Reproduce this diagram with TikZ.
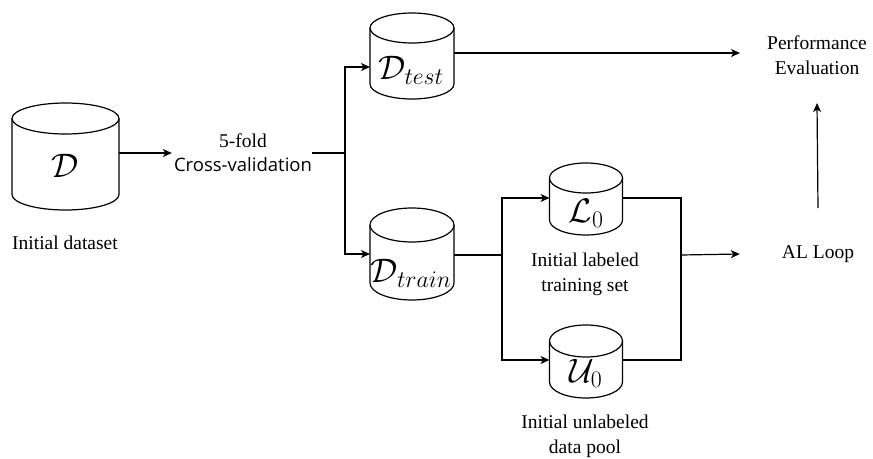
\RequirePackage{fix-cm}
\documentclass[tikz,border=0pt]{standalone}
\usepackage{fontspec}
\setmainfont{Liberation Serif}
\newfontfamily\serifx{Liberation Serif}
\newfontfamily\cvsans{Open Sans}
\usetikzlibrary{arrows.meta,calc}
\newcommand{\dbcyl}[6]{% name, cx, top, bottom, halfwidth, ry
  \node[inner sep=0pt, outer sep=0pt, minimum width={2*#5*1pt}, minimum height={(#4-#3)*1pt}] (#1) at (#2,{-(#3+#4)/2}) {};
  \draw[cylline] (#2-#5,-#3-#6) -- (#2-#5,-#4+#6) arc[start angle=180, end angle=360, x radius=#5, y radius=#6] -- (#2+#5,-#3-#6);
  \draw[cylline] (#2,-#3-#6) ellipse[x radius=#5, y radius=#6];
}
\begin{document}
\begin{tikzpicture}[x=1pt,y=1pt,
  cylline/.style={line width=1.2pt, line join=round},
  conn/.style={line width=1.2pt},
  arr/.style={conn, -{Stealth[length=9pt,width=8pt,inset=2.5pt]}},
  lbl/.style={font=\serifx\fontsize{19.5}{25}\selectfont, align=center, inner sep=0pt},
  mathlbl/.style={font=\fontsize{34}{34}\selectfont, inner sep=0pt}]
\useasboundingbox (0,0) rectangle (873,-458);
% cylinders
\dbcyl{D}{65.5}{103}{210}{53.5}{15.5}
\dbcyl{Dtest}{412}{13}{99}{42}{15}
\dbcyl{Dtrain}{412}{208}{300}{42}{17}
\dbcyl{L0}{586}{163}{235}{36.5}{15}
\dbcyl{U0}{586}{325}{398}{36.5}{16}
% cylinder labels
\node[mathlbl] (Dl) at (65,-166) {$\mathcal{D}$};
\node[mathlbl] (Dtestl) at (411,-70) {$\mathcal{D}_{test}$};
\node[mathlbl] (Dtrainl) at (411,-273) {$\mathcal{D}_{train}$};
\node[mathlbl] (L0l) at (586,-213) {$\mathcal{L}_{0}$};
\node[mathlbl] (U0l) at (586,-373) {$\mathcal{U}_{0}$};
% text labels
\node[lbl] (Dcap) at (65,-243) {Initial dataset};
\node[lbl] (cv) at (243,-153) {5-fold\\[-1pt]{\cvsans\fontsize{18.5}{22}\selectfont Cross-validation}};
\node[lbl] (L0cap) at (585,-274.5) {Initial labeled\\training set};
\node[lbl] (U0cap) at (585,-436) {Initial unlabeled\\data pool};
\node[lbl] (AL) at (818,-254) {AL Loop};
\node[lbl] (PE) at (817,-55) {Performance\\Evaluation};
% connectors
\coordinate (br) at (345,-153);
\coordinate (b2) at (502,-255);
\coordinate (m) at (681,-255);
\draw[arr] (D.east |- br) -- ([xshift=-2pt]cv.west |- br);
\draw[conn] (cv.east |- br) -- (br);
\draw[arr] (br) |- ([yshift=-11pt]Dtest.west);
\draw[arr] (br) |- (Dtrain.west);
\draw[arr] ([yshift=3pt]Dtest.east) -- ([xshift=-27pt,yshift=2pt]PE.west);
\draw[conn] (Dtrain.east |- b2) -- (b2);
\draw[arr] (b2) |- ([yshift=1pt]L0.west);
\draw[arr] (b2) |- ([yshift=1.5pt]U0.west);
\draw[conn] ([yshift=1pt]L0.east) -| (m);
\draw[conn] ([yshift=1.5pt]U0.east) -| (m);
\draw[arr] (m) -- ([xshift=-42pt]AL.west);
\draw[arr] (AL.north |- 0,-208) -- (PE.south |- 0,-103);
\end{tikzpicture}
\end{document}
